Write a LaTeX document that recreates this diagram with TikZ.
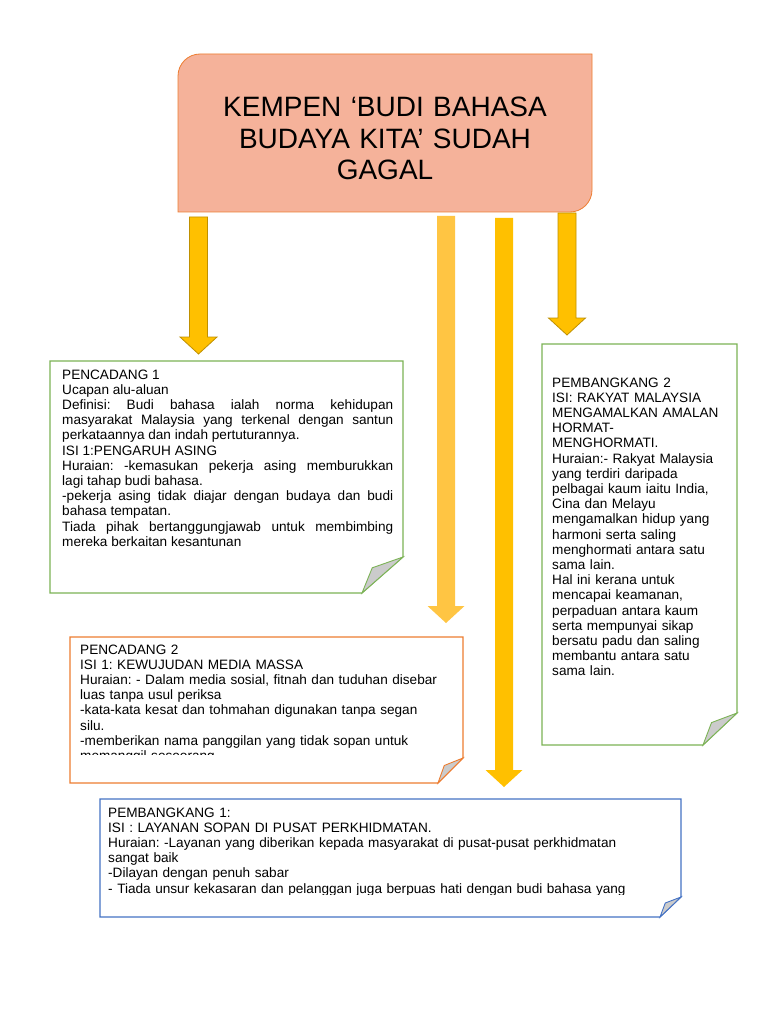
\documentclass[tikz,border=0pt]{standalone}
\usepackage{fontspec}
\setmainfont{Liberation Sans}
\usetikzlibrary{calc}
\frenchspacing

\definecolor{tajukfill}{HTML}{F5B29A}
\definecolor{tajukline}{HTML}{ED7D31}
\definecolor{emas}{HTML}{FFC000}
\definecolor{emascerah}{HTML}{FFC543}
\definecolor{emasline}{HTML}{BF9000}
\definecolor{hijau}{HTML}{7CB356}
\definecolor{oren}{HTML}{ED7D31}
\definecolor{biru}{HTML}{4472C4}
\definecolor{lipat}{HTML}{CBCBCB}

% kotak dengan bucu terlipat: x1,y1,x2,y2,lipat-y,lipat-x,warna
\newcommand{\kotaklipat}[7]{%
  \pgfmathsetmacro{\mx}{#6+0.25*(#3-#6)}%
  \pgfmathsetmacro{\my}{#5+0.3*(#4-#5)}%
  \fill[white] (#1,#2) -- (#3,#2) -- (#3,#5) -- (#6,#4) -- (#1,#4) -- cycle;
  \draw[#7, line width=1.1pt] (#1,#2) -- (#3,#2) -- (#3,#5) -- (#6,#4) -- (#1,#4) -- cycle;
  \filldraw[#7, fill=lipat, line width=0.9pt] (#3,#5) -- (\mx,\my) -- (#6,#4) -- cycle;
}

% anak panah blok dari titik ke titik
\newcommand{\panah}[3][]{%
  \filldraw[#1] let \p1=(#2), \p2=(#3) in
    (\x1-9pt,\y1) -- (\x1+9pt,\y1) -- (\x1+9pt,\y2+17pt) -- (\x1+18.5pt,\y2+17pt)
    -- (\x2,\y2) -- (\x1-18.5pt,\y2+17pt) -- (\x1-9pt,\y2+17pt) -- cycle;
}

\begin{document}
\begin{tikzpicture}[x=1pt, y=-1pt,
  isi/.style={anchor=base west, inner sep=0pt, font=\fontsize{13.6}{15.2}\selectfont},
  panahgelap/.style={fill=emas, draw=emasline, line width=0.8pt},
  panahterang/.style={fill=emas, draw=none}]
  \useasboundingbox (0,0) rectangle (768,1024);
  \fill[white] (0,0) rectangle (768,1024);

  % tajuk
  \filldraw[fill=tajukfill, draw=tajukline, line width=0.8pt]
    (178,212) -- (178,76) .. controls (178,63.9) and (187.9,54) .. (200,54)
    -- (592,54) -- (592,190) .. controls (592,202.1) and (582.1,212) .. (570,212) -- cycle;
  \node[anchor=base, inner sep=0pt, text width=400pt, align=center,
        font=\fontsize{28}{31.5}\selectfont] (tajuk) at (385,117)
    {KEMPEN ‘BUDI BAHASA\\ BUDAYA KITA’ SUDAH\\ GAGAL};

  \coordinate (p1a) at (198.5,217);  \coordinate (p1b) at (198.5,354);
  \coordinate (p2a) at (446,216);    \coordinate (p2b) at (446,623);
  \coordinate (p3a) at (504,218);    \coordinate (p3b) at (504,787);
  \coordinate (p4a) at (567,213);    \coordinate (p4b) at (567,335);

  \panah[panahgelap]{p1a}{p1b}
  \panah[panahterang, fill=emascerah]{p2a}{p2b}
  \panah[panahterang]{p3a}{p3b}
  \panah[panahgelap]{p4a}{p4b}

  % pencadang 1
  \kotaklipat{50}{361}{403}{593}{557}{362}{hijau}
  \node[isi, text width=331pt, align=justify] (cadang1) at (62,379)
    {PENCADANG 1\newline
     Ucapan alu-aluan\newline
     Definisi: Budi bahasa ialah norma kehidupan\linebreak
     masyarakat Malaysia yang terkenal dengan santun\linebreak
     perkataannya dan indah pertuturannya.\newline
     ISI 1:PENGARUH ASING\newline
     Huraian: -kemasukan pekerja asing memburukkan\linebreak
     lagi tahap budi bahasa.\newline
     -pekerja asing tidak diajar dengan budaya dan budi\linebreak
     bahasa tempatan.\newline
     Tiada pihak bertanggungjawab untuk membimbing\linebreak
     mereka berkaitan kesantunan};

  % pembangkang 2
  \kotaklipat{542}{344}{737}{745}{713}{703}{hijau}
  \node[isi, text width=180pt, align=left] (bangkang2) at (552,387)
    {PEMBANGKANG 2\\
     ISI: RAKYAT MALAYSIA\\
     MENGAMALKAN AMALAN\\
     HORMAT-\\
     MENGHORMATI.\\
     Huraian:- Rakyat Malaysia\\
     yang terdiri daripada\\
     pelbagai kaum iaitu India,\\
     Cina dan Melayu\\
     mengamalkan hidup yang\\
     harmoni serta saling\\
     menghormati antara satu\\
     sama lain.\\
     Hal ini kerana untuk\\
     mencapai keamanan,\\
     perpaduan antara kaum\\
     serta mempunyai sikap\\
     bersatu padu dan saling\\
     membantu antara satu\\
     sama lain.};

  % pencadang 2
  \kotaklipat{70}{637}{463}{783}{758}{438}{oren}
  \begin{scope}
    \clip (72,639) rectangle (461,754.3);
    \node[isi, text width=380pt, align=left] (cadang2) at (80,654)
      {PENCADANG 2\\
       ISI 1: KEWUJUDAN MEDIA MASSA\\
       Huraian: - Dalam media sosial, fitnah dan tuduhan disebar\\
       luas tanpa usul periksa\\
       -kata-kata kesat dan tohmahan digunakan tanpa segan\\
       silu.\\
       -memberikan nama panggilan yang tidak sopan untuk\\
       memanggil seseorang};
  \end{scope}

  % pembangkang 1
  \kotaklipat{100}{799}{681}{917}{897}{660}{biru}
  \begin{scope}
    \clip (102,801) rectangle (679,894.3);
    \node[isi, text width=568pt, align=left] (bangkang1) at (108,817)
      {PEMBANGKANG 1:\\
       ISI : LAYANAN SOPAN DI PUSAT PERKHIDMATAN.\\
       Huraian: -Layanan yang diberikan kepada masyarakat di pusat-pusat perkhidmatan\\
       sangat baik\\
       -Dilayan dengan penuh sabar\\
       - Tiada unsur kekasaran dan pelanggan juga berpuas hati dengan budi bahasa yang};
  \end{scope}
\end{tikzpicture}
\end{document}
